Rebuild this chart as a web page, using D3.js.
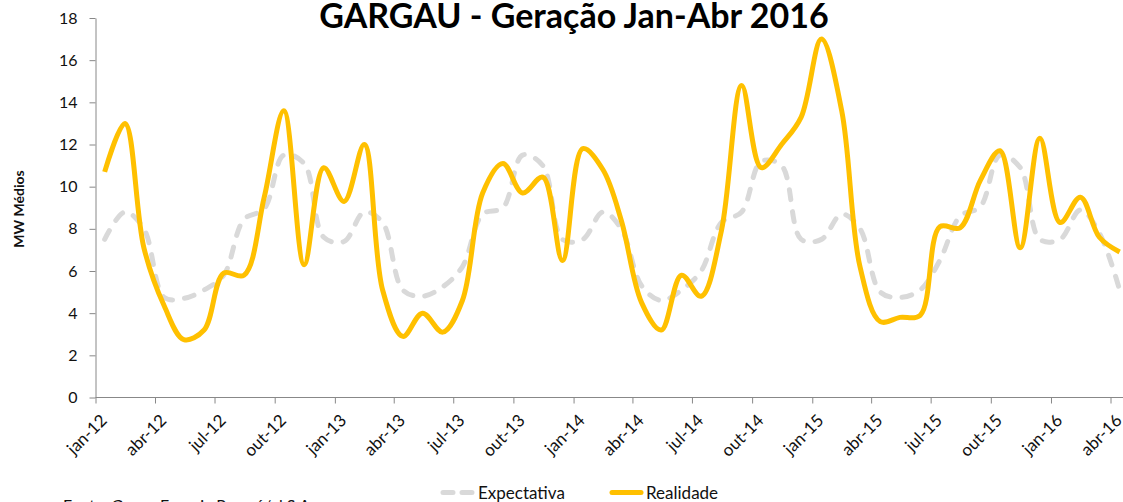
<!DOCTYPE html>
<html>
<head>
<meta charset="utf-8">
<script src="https://cdn.jsdelivr.net/npm/d3@7"></script>
<style>
  body { margin: 0; background: #fff; }
  svg { display: block; font-family: Lato, "Open Sans", sans-serif; }
</style>
</head>
<body>
<svg id="chart" width="1123" height="502"></svg>
<script>
'use strict';

// monthly categories, jan-12 .. abr-16
const months = [
    "jan-12", "fev-12", "mar-12", "abr-12", "mai-12", "jun-12", "jul-12", "ago-12", "set-12", "out-12", "nov-12", "dez-12",
    "jan-13", "fev-13", "mar-13", "abr-13", "mai-13", "jun-13", "jul-13", "ago-13", "set-13", "out-13", "nov-13", "dez-13",
    "jan-14", "fev-14", "mar-14", "abr-14", "mai-14", "jun-14", "jul-14", "ago-14", "set-14", "out-14", "nov-14", "dez-14",
    "jan-15", "fev-15", "mar-15", "abr-15", "mai-15", "jun-15", "jul-15", "ago-15", "set-15", "out-15", "nov-15", "dez-15",
    "jan-16", "fev-16", "mar-16", "abr-16"
];

const expectativa = [
    7.5, 8.8, 8.0, 4.75, 4.7, 5.1, 5.8, 8.45, 8.95, 11.5, 11.1, 7.6,
    7.4, 8.8, 8.3, 5.1, 4.8, 5.25, 6.2, 8.7, 9.0, 11.5, 11.0, 7.5,
    7.5, 8.8, 8.0, 5.3, 4.6, 5.1, 6.0, 8.3, 8.8, 11.2, 11.0, 7.5,
    7.5, 8.7, 8.0, 5.0, 4.75, 5.1, 6.5, 8.6, 9.05, 11.5, 10.9, 7.5,
    7.5, 8.9, 7.8, 5.1
];

const realidade = [
    10.7, 13.0, 7.1, 4.35, 2.75, 3.2, 5.9, 5.8, 9.5, 13.6, 6.3, 10.9,
    9.3, 12.0, 5.1, 2.9, 4.0, 3.1, 4.6, 9.7, 11.1, 9.7, 10.45, 6.5,
    11.8, 10.8, 8.4, 4.5, 3.2, 5.8, 4.8, 7.9, 14.8, 10.9, 12.0, 13.3,
    17.0, 13.6, 6.2, 3.6, 3.8, 3.9, 8.1, 8.05, 10.3, 11.7, 7.1, 12.3,
    8.3, 9.5, 7.6, 6.9
];

const yTicks = [0, 2, 4, 6, 8, 10, 12, 14, 16, 18];
const tickLabels = months.filter((m, i) => i % 3 === 0);

const MES = { jan: 0, fev: 1, mar: 2, abr: 3, mai: 4, jun: 5, jul: 6, ago: 7, set: 8, out: 9, nov: 10, dez: 11 };
const parseMonth = (s) => new Date(2000 + +s.slice(4), MES[s.slice(0, 3)], 1);

const svg = d3.select('#chart');

// scales: ticks sit on the 1st of the month, points mid-month
const x = d3.scaleTime()
    .domain([parseMonth(months[0]), parseMonth(months[months.length - 1])])
    .range([95.5, 1110.5]);

const y = d3.scaleLinear()
    .domain([0, 18])
    .range([397.5, 18]);

const pointDate = (m) => d3.timeDay.offset(parseMonth(m), 14);

// title
svg.append('text')
    .attr('x', 574)
    .attr('y', 28)
    .attr('text-anchor', 'middle')
    .attr('font-size', 34)
    .attr('font-weight', 'bold')
    .attr('fill', '#000')
    .text('GARGAU - Geração Jan-Abr 2016');

// y axis
const yAxis = svg.append('g')
    .attr('transform', 'translate(95.5,0)')
    .call(d3.axisLeft(y).tickValues(yTicks).tickSize(6).tickSizeOuter(0).tickPadding(12));

yAxis.select('.domain').attr('stroke', '#888');
yAxis.selectAll('.tick line').attr('stroke', '#888');
yAxis.selectAll('.tick text')
    .attr('font-size', 16)
    .attr('fill', '#111')
    .attr('font-family', 'Lato, sans-serif');

svg.append('text')
    .attr('transform', 'translate(24,209) rotate(-90)')
    .attr('text-anchor', 'middle')
    .attr('font-size', 14)
    .attr('font-weight', 'bold')
    .attr('fill', '#111')
    .text('MW Médios');

// x axis
const xAxis = svg.append('g')
    .attr('transform', 'translate(0,397.5)')
    .call(d3.axisBottom(x)
        .tickValues(tickLabels.map(parseMonth))
        .tickFormat((d, i) => tickLabels[i])
        .tickSize(6)
        .tickSizeOuter(0));

xAxis.select('.domain').remove();
xAxis.append('line')
    .attr('x1', 95.5)
    .attr('x2', 1123)
    .attr('stroke', '#888');
xAxis.selectAll('.tick line').attr('stroke', '#888');
xAxis.selectAll('.tick text')
    .attr('y', 0)
    .attr('dy', 0)
    .attr('transform', 'translate(12,24) rotate(-45)')
    .style('text-anchor', 'end')
    .attr('font-size', 17)
    .attr('fill', '#111')
    .attr('font-family', 'Lato, sans-serif');

// series
const line = d3.line()
    .x((d, i) => x(pointDate(months[i])))
    .y((d) => y(d))
    .curve(d3.curveCatmullRom.alpha(0.5));

svg.append('path')
    .datum(expectativa)
    .attr('fill', 'none')
    .attr('stroke', '#d9d9d9')
    .attr('stroke-width', 5)
    .attr('stroke-linecap', 'round')
    .attr('stroke-dasharray', '10,12')
    .attr('d', line);

svg.append('path')
    .datum(realidade)
    .attr('fill', 'none')
    .attr('stroke', '#ffc000')
    .attr('stroke-width', 5)
    .attr('stroke-linejoin', 'round')
    .attr('d', line);

// legend
const legend = svg.append('g').attr('font-size', 17).attr('fill', '#111');

legend.append('line')
    .attr('x1', 443).attr('x2', 472)
    .attr('y1', 492.5).attr('y2', 492.5)
    .attr('stroke', '#d9d9d9')
    .attr('stroke-width', 5)
    .attr('stroke-linecap', 'round')
    .attr('stroke-dasharray', '10,9');
legend.append('text').attr('x', 478).attr('y', 499).text('Expectativa');

legend.append('line')
    .attr('x1', 612).attr('x2', 641)
    .attr('y1', 492.5).attr('y2', 492.5)
    .attr('stroke', '#ffc000')
    .attr('stroke-width', 5)
    .attr('stroke-linecap', 'round');
legend.append('text').attr('x', 646).attr('y', 499).text('Realidade');

// source note, cut by the bottom edge
svg.append('text')
    .attr('x', 63)
    .attr('y', 511)
    .attr('font-size', 16)
    .attr('fill', '#111')
    .text('Fonte: Grupo Energia Paraná/el S.A.');
</script>
</body>
</html>
